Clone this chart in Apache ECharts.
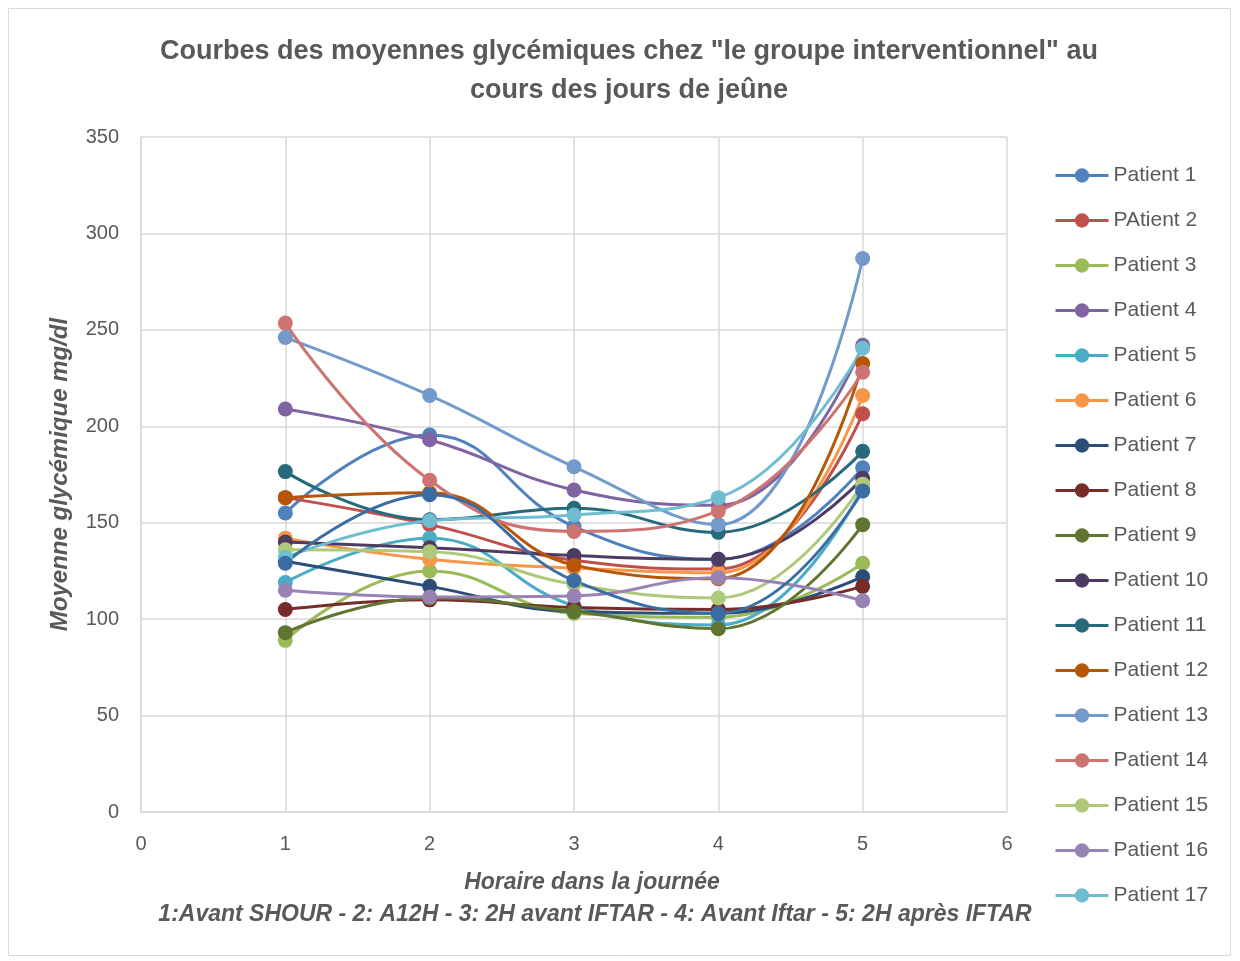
<!doctype html>
<html lang="fr">
  <head>
    <meta charset="UTF-8" />
    <title>Courbes des moyennes glycémiques</title>
    <script src="https://cdn.jsdelivr.net/npm/echarts/dist/echarts.min.js"></script>
    <style>
      body { margin: 0; padding: 0; background: #fff; }
      .main { width: 1240px; height: 961px; }
    </style>
  </head>
  <body>
    <div class="main"></div>
  </body>
  <script>
    // horaires (axe x)
    const horaires = [1, 2, 3, 4, 5];

    // noms de la légende
    const patients = [
      "Patient 1", "PAtient 2", "Patient 3", "Patient 4", "Patient 5", "Patient 6",
      "Patient 7", "Patient 8", "Patient 9", "Patient 10", "Patient 11", "Patient 12",
      "Patient 13", "Patient 14", "Patient 15", "Patient 16", "Patient 17",
    ];

    // moyennes glycémiques par patient (mg/dl)
    const p1 = [155, 195.5, 148, 131, 178.5];
    const p2 = [163, 149, 130.5, 126, 206.5];
    const p3 = [89, 125, 103, 101, 129];
    const p4 = [209, 193, 167, 159, 242];
    const p5 = [119, 142, 107, 97, 168];
    const p6 = [142, 131, 126.5, 124, 216];
    const p7 = [130, 117, 104, 103, 122];
    const p8 = [105, 110, 106, 105, 117];
    const p9 = [93, 111, 104, 95, 149];
    const p10 = [140, 137, 133, 131, 173];
    const p11 = [176.5, 151.5, 157.5, 145, 187];
    const p12 = [163, 165.5, 128, 121, 232.5];
    const p13 = [246, 216, 179, 149, 287];
    const p14 = [253.5, 172, 145.5, 156, 228];
    const p15 = [136, 135, 118, 111, 170];
    const p16 = [115, 111.5, 112, 121.5, 109.5];
    const p17 = [132, 151, 154, 163, 240.5];
    // courbe sans entrée de légende
    const p18 = [129, 164.5, 120, 103, 166.5];

    const valeurs = [p1, p2, p3, p4, p5, p6, p7, p8, p9, p10, p11, p12, p13, p14, p15, p16, p17, p18];

    const couleurs = [
      "#4F81BD", "#C0504D", "#9BBB59", "#8064A2", "#4BACC6", "#F79646",
      "#2C4D75", "#772C2A", "#5F7530", "#4D3B62", "#276A7C", "#B65708",
      "#729ACA", "#CD7371", "#AFC97A", "#9983B5", "#6FBDD1", "#3A6DA3",
    ];

    const myChart = echarts.init(document.querySelector(".main"));

    const font = "'Liberation Sans', 'DejaVu Sans', sans-serif";

    const series = valeurs.map((vals, i) => ({
      name: patients[i] || "Patient 18",
      type: "line",
      smooth: 0.45,
      symbol: "circle",
      symbolSize: 15,
      lineStyle: { width: 3, color: couleurs[i] },
      itemStyle: { color: couleurs[i] },
      emphasis: { disabled: true },
      data: horaires.map((x, j) => [x, vals[j]]),
    }));

    const option = {
      animation: false,
      textStyle: { fontFamily: font },
      title: {
        text: 'Courbes des moyennes glycémiques chez "le groupe interventionnel" au\ncours des jours de jeûne',
        left: 624,
        top: 27,
        textAlign: "center",
        textStyle: {
          color: "#595959",
          fontSize: 27,
          fontWeight: "bold",
          lineHeight: 39,
          fontFamily: font,
        },
      },
      grid: { left: 141, right: 233, top: 137, bottom: 149 },
      legend: {
        orient: "vertical",
        left: 1049,
        top: 160,
        data: patients,
        itemWidth: 53,
        itemHeight: 18,
        itemGap: 24,
        lineStyle: { width: 3 },
        textStyle: { color: "#595959", fontSize: 21, lineHeight: 20, fontFamily: font },
      },
      xAxis: {
        type: "value",
        min: 0,
        max: 6,
        interval: 1,
        axisLine: { show: true, lineStyle: { color: "#d9d9d9", width: 1.5 } },
        axisTick: { show: false },
        splitLine: { show: true, lineStyle: { color: "#d9d9d9", width: 1.5 } },
        axisLabel: { color: "#595959", fontSize: 20, margin: 22 },
      },
      yAxis: {
        type: "value",
        min: 0,
        max: 350,
        interval: 50,
        axisLine: { show: true, lineStyle: { color: "#d9d9d9", width: 1.5 } },
        axisTick: { show: false },
        splitLine: { show: true, lineStyle: { color: "#d9d9d9", width: 1.5 } },
        axisLabel: { color: "#595959", fontSize: 20, margin: 22 },
        name: "Moyenne glycémique mg/dl",
        nameLocation: "middle",
        nameGap: 69,
        nameTextStyle: { color: "#595959", fontSize: 24, fontWeight: "bold", fontStyle: "italic" },
      },
      graphic: [
        {
          type: "rect",
          shape: { x: 8.5, y: 8.5, width: 1222, height: 947 },
          style: { fill: "none", stroke: "#d9d9d9", lineWidth: 1 },
          silent: true,
        },
        {
          type: "text",
          x: 592,
          y: 883,
          style: {
            text: "Horaire dans la journée",
            fill: "#595959",
            font: "italic bold 23px " + font,
            textAlign: "center",
            textVerticalAlign: "middle",
          },
        },
        {
          type: "text",
          x: 595,
          y: 915,
          style: {
            text: "1:Avant SHOUR - 2: A12H - 3: 2H avant IFTAR - 4: Avant Iftar - 5: 2H après IFTAR",
            fill: "#595959",
            font: "italic bold 23px " + font,
            textAlign: "center",
            textVerticalAlign: "middle",
          },
        },
      ],
      series: series,
    };

    myChart.setOption(option);
  </script>
</html>
